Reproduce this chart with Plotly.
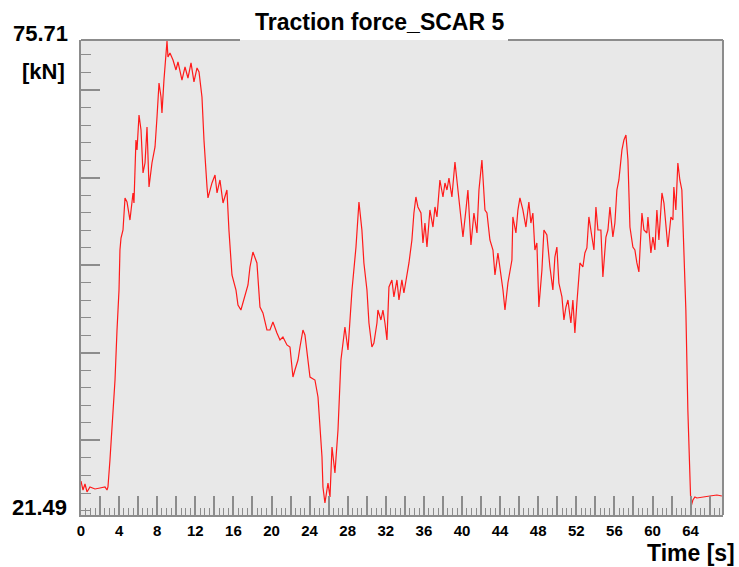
import plotly.graph_objects as go

# ---- data (time in s, traction force in kN) ----
time_s = [0.00, 0.21, 0.42, 0.63, 0.94, 1.47, 1.99, 2.52, 2.73, 2.83, 3.04, 3.25, 3.36, 3.57, 3.78, 3.99,
          4.09, 4.20, 4.41, 4.62, 4.83, 5.14, 5.46, 5.56, 5.77, 5.88, 6.09, 6.30, 6.51, 6.72, 6.93, 7.14,
          7.45, 7.77, 7.98, 8.19, 8.40, 8.50, 8.71, 9.03, 9.13, 9.34, 9.66, 9.97, 10.18, 10.60, 10.92,
          11.23, 11.55, 11.86, 12.18, 12.39, 12.70, 12.91, 13.23, 13.33, 13.75, 14.07, 14.28, 14.59,
          14.91, 15.32, 15.53, 15.85, 16.27, 16.48, 16.79, 17.21, 17.53, 17.74, 18.05, 18.47, 18.79,
          19.10, 19.52, 19.84, 20.15, 20.57, 20.89, 21.20, 21.62, 21.94, 22.25, 22.46, 22.78, 22.99,
          23.30, 23.51, 23.72, 24.04, 24.56, 24.88, 25.30, 25.40, 25.61, 25.82, 25.93, 26.14, 26.35,
          26.66, 26.98, 27.29, 27.71, 28.03, 28.45, 28.87, 28.97, 29.18, 29.49, 29.70, 30.02, 30.23,
          30.54, 30.75, 31.07, 31.17, 31.49, 31.70, 31.91, 32.12, 32.33, 32.64, 32.85, 33.17, 33.38,
          33.69, 33.90, 34.22, 34.43, 34.74, 34.95, 35.16, 35.37, 35.69, 35.90, 36.11, 36.32, 36.63,
          36.95, 37.16, 37.37, 37.68, 38.00, 38.21, 38.42, 38.63, 38.94, 39.26, 39.47, 39.68, 40.10,
          40.41, 40.62, 40.94, 41.25, 41.57, 41.78, 42.09, 42.41, 42.62, 42.93, 43.25, 43.46, 43.77,
          44.09, 44.30, 44.51, 44.82, 45.24, 45.34, 45.66, 45.87, 46.08, 46.39, 46.71, 47.02, 47.23,
          47.44, 47.65, 47.86, 48.07, 48.39, 48.60, 48.91, 49.23, 49.54, 49.75, 49.96, 50.17, 50.49,
          50.70, 50.91, 51.12, 51.43, 51.64, 51.85, 52.06, 52.38, 52.69, 52.90, 53.11, 53.32, 53.64,
          53.85, 54.06, 54.27, 54.58, 54.79, 55.11, 55.32, 55.53, 55.84, 56.05, 56.26, 56.47, 56.79,
          57.00, 57.21, 57.42, 57.63, 57.94, 58.15, 58.36, 58.57, 58.89, 59.10, 59.41, 59.52, 59.83,
          60.04, 60.25, 60.46, 60.67, 60.99, 61.20, 61.40, 61.61, 61.93, 62.14, 62.24, 62.45, 62.66,
          62.87, 63.08, 63.29, 63.50, 63.71, 64.03, 64.24, 64.45, 64.66, 65.18, 66.02, 66.76, 67.28]
force_kN = [25.37, 24.34, 25.03, 24.12, 24.69, 24.46, 24.57, 24.69, 24.34, 24.69, 27.77, 31.76, 33.48,
            36.90, 42.61, 47.17, 51.74, 53.11, 54.02, 57.68, 57.22, 55.16, 58.25, 57.10, 64.30, 63.16,
            67.15, 65.44, 60.53, 61.67, 65.78, 58.93, 61.67, 63.50, 66.92, 70.80, 69.20, 67.38, 71.14,
            75.60, 73.77, 74.23, 73.43, 72.29, 73.20, 71.14, 72.63, 71.37, 73.09, 70.92, 72.52, 72.06,
            69.20, 64.30, 58.93, 57.68, 59.39, 60.30, 58.25, 59.73, 57.10, 58.59, 54.02, 48.89, 47.17,
            45.46, 44.89, 46.60, 47.75, 49.80, 51.51, 50.26, 45.23, 44.55, 42.61, 42.61, 43.52, 42.27,
            41.47, 41.81, 40.90, 40.67, 37.24, 38.04, 39.18, 40.67, 42.61, 42.04, 40.32, 37.24, 36.90,
            34.96, 28.11, 24.69, 22.86, 24.69, 25.14, 23.54, 29.25, 26.28, 31.19, 39.18, 42.95, 40.32,
            47.17, 52.08, 54.02, 57.22, 54.02, 50.26, 47.17, 43.41, 40.67, 41.12, 43.41, 44.89, 43.75,
            44.89, 43.41, 41.47, 47.52, 48.32, 46.38, 48.32, 46.03, 48.32, 46.83, 48.66, 50.26, 52.88,
            55.96, 57.79, 56.65, 55.96, 52.54, 54.82, 52.08, 56.31, 54.36, 56.65, 55.51, 59.73, 57.79,
            59.39, 58.59, 59.96, 57.79, 61.79, 59.73, 57.22, 53.22, 56.31, 58.59, 52.31, 55.96, 53.68,
            58.59, 62.01, 56.31, 55.96, 52.88, 51.74, 48.89, 51.40, 49.11, 47.17, 44.89, 47.97, 50.60,
            55.51, 53.68, 56.31, 57.68, 56.31, 54.36, 57.22, 54.82, 55.96, 51.74, 52.54, 45.23, 49.46,
            54.02, 53.45, 49.80, 47.17, 50.94, 52.08, 47.97, 46.38, 43.75, 45.23, 46.03, 43.41, 46.03,
            42.27, 45.69, 50.26, 49.80, 51.40, 51.97, 55.51, 53.22, 51.74, 56.65, 54.02, 54.02, 48.66,
            53.22, 54.02, 56.65, 53.22, 54.82, 58.59, 59.73, 63.16, 64.30, 64.87, 62.01, 54.36, 52.08,
            51.74, 50.26, 49.23, 55.96, 54.02, 53.68, 55.51, 51.40, 53.22, 51.74, 56.31, 52.88, 58.25,
            57.10, 54.36, 52.08, 55.51, 55.16, 58.93, 56.31, 61.67, 59.73, 58.59, 50.60, 44.89, 33.48,
            22.40, 23.20, 23.54, 23.43, 23.54, 23.66, 23.77, 23.66]

x_range = [0, 67.4]
y_min, y_max = 21.49, 75.71
x_major = list(range(0, 67, 2))
x_labels = [f"<b>{v}</b>" if v % 4 == 0 else "" for v in x_major]
y_major = [30, 40, 50, 60, 70]

title_text = "Traction force_SCAR 5"
y_top_label = "75.71"
y_unit_label = "[kN]"
y_bottom_label = "21.49"
x_title = "Time [s]"

FONT = "Liberation Sans, Arial, sans-serif"
GREY = "#8c8c8c"

fig = go.Figure()
fig.add_trace(go.Scatter(x=time_s, y=force_kN, mode="lines",
                         line=dict(color="#ff1a1a", width=1.2), hoverinfo="skip"))

fig.update_layout(
    width=739, height=567,
    margin=dict(l=81, r=16, t=40, b=52),
    paper_bgcolor="white", plot_bgcolor="#e8e8e8",
    showlegend=False,
    xaxis=dict(range=x_range, tickmode="array", tickvals=x_major, ticktext=x_labels,
               ticks="inside", ticklen=19, tickwidth=1.5, tickcolor=GREY,
               minor=dict(dtick=0.5, tick0=0, ticks="inside", ticklen=7, tickwidth=1.2, tickcolor=GREY),
               showline=True, linecolor=GREY, linewidth=2, mirror=False,
               showgrid=False, zeroline=False, ticklabelstandoff=1,
               tickfont=dict(family=FONT, size=15, color="black")),
    yaxis=dict(range=[y_min, y_max], tickmode="array", tickvals=y_major, showticklabels=False,
               ticks="inside", ticklen=19, tickwidth=1.5, tickcolor=GREY,
               minor=dict(dtick=2, tick0=0, ticks="inside", ticklen=10, tickwidth=1.2, tickcolor=GREY),
               showline=True, linecolor=GREY, linewidth=2, mirror=False,
               showgrid=False, zeroline=False),
)

# border: right edge and top edge broken by the title
fig.add_shape(type="line", xref="paper", yref="paper", x0=1, x1=1, y0=0, y1=1,
              line=dict(color=GREY, width=2))
fig.add_shape(type="line", xref="paper", yref="paper", x0=0, x1=(240 - 81) / 642, y0=1, y1=1,
              line=dict(color=GREY, width=2))
fig.add_shape(type="line", xref="paper", yref="paper", x0=(508 - 81) / 642, x1=1, y0=1, y1=1,
              line=dict(color=GREY, width=2))

def ann(text, x, y, xanchor, yanchor, size):
    fig.add_annotation(text=f"<b>{text}</b>", xref="paper", yref="paper", x=x, y=y,
                       xanchor=xanchor, yanchor=yanchor, showarrow=False,
                       font=dict(family=FONT, size=size, color="black"))

pw, ph = 642, 475
ann(title_text, (379 - 81) / pw, 1 + (40 - 22) / ph, "center", "middle", 23)
ann(y_top_label, (70 - 81) / pw, 1 + (40 - 33) / ph, "right", "middle", 22)
ann(y_unit_label, (67 - 81) / pw, 1 - (72 - 40) / ph, "right", "middle", 22)
ann(y_bottom_label, (69 - 81) / pw, (515 - 507) / ph, "right", "middle", 22)
ann(x_title, (737 - 81) / pw, -(553 - 515) / ph, "right", "middle", 23)

fig.write_html("out.html", config={"displayModeBar": False},
               post_script="document.body.style.margin='0';")
